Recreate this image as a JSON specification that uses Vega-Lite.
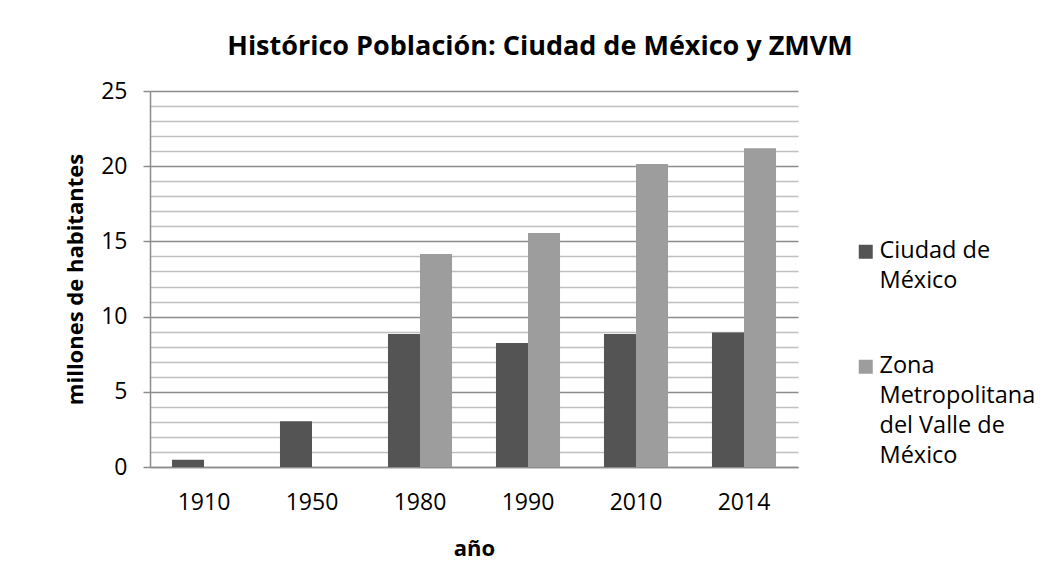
{
  "$schema": "https://vega.github.io/schema/vega-lite/v6.json",
  "width": 648,
  "height": 376,
  "autosize": {"type": "none"},
  "padding": {"left": 150, "top": 91, "right": 259, "bottom": 108},
  "background": "white",
  "title": {
    "text": "Histórico Población: Ciudad de México y ZMVM",
    "font": "Open Sans",
    "fontSize": 27,
    "fontWeight": "bold",
    "color": "black",
    "anchor": "middle",
    "dx": 66,
    "offset": 19
  },
  "data": {
    "values": [
      {"anio": "1910", "serie": "Ciudad de México", "valor": 0.48},
      {"anio": "1950", "serie": "Ciudad de México", "valor": 3.05},
      {"anio": "1980", "serie": "Ciudad de México", "valor": 8.85},
      {"anio": "1980", "serie": "Zona Metropolitana del Valle de México", "valor": 14.16},
      {"anio": "1990", "serie": "Ciudad de México", "valor": 8.25},
      {"anio": "1990", "serie": "Zona Metropolitana del Valle de México", "valor": 15.56},
      {"anio": "2010", "serie": "Ciudad de México", "valor": 8.85},
      {"anio": "2010", "serie": "Zona Metropolitana del Valle de México", "valor": 20.14},
      {"anio": "2014", "serie": "Ciudad de México", "valor": 8.94},
      {"anio": "2014", "serie": "Zona Metropolitana del Valle de México", "valor": 21.2}
    ]
  },
  "mark": {"type": "bar", "opacity": 1},
  "encoding": {
    "x": {
      "field": "anio",
      "type": "nominal",
      "scale": {"paddingInner": 0.407, "paddingOuter": 0.2035},
      "axis": {
        "title": "año",
        "labelAngle": 0,
        "ticks": false,
        "domainColor": "#8c8c8c",
        "domainWidth": 1.5,
        "labelPadding": 18,
        "labelFontSize": 23,
        "labelColor": "black",
        "labelFont": "Open Sans",
        "titleFont": "Open Sans",
        "titleFontSize": 22,
        "titleFontWeight": "bold",
        "titleColor": "black",
        "titlePadding": 24
      }
    },
    "xOffset": {
      "field": "serie",
      "type": "nominal",
      "scale": {"paddingInner": 0, "paddingOuter": 0}
    },
    "y": {
      "field": "valor",
      "type": "quantitative",
      "scale": {"domain": [0, 25], "nice": false},
      "axis": {
        "title": "millones de habitantes",
        "values": [0, 1, 2, 3, 4, 5, 6, 7, 8, 9, 10, 11, 12, 13, 14, 15, 16, 17, 18, 19, 20, 21, 22, 23, 24, 25],
        "grid": true,
        "gridColor": {"condition": {"test": "datum.value % 5 === 0", "value": "#8c8c8c"}, "value": "#c0c0c0"},
        "gridWidth": 1.5,
        "tickColor": "#8c8c8c",
        "tickWidth": 1.5,
        "tickSize": 7,
        "tickOpacity": {"condition": {"test": "datum.value % 5 === 0", "value": 1}, "value": 0},
        "labelExpr": "datum.value % 5 === 0 ? datum.label : ''",
        "labelOverlap": false,
        "labelFlush": false,
        "labelFontSize": 23,
        "labelFont": "Open Sans",
        "labelColor": "black",
        "labelPadding": 16,
        "labelOffset": -6,
        "domainColor": "#8c8c8c",
        "domainWidth": 1.5,
        "titleFont": "Open Sans",
        "titleFontSize": 22,
        "titleFontWeight": "bold",
        "titleColor": "black",
        "titlePadding": 13
      }
    },
    "color": {
      "field": "serie",
      "type": "nominal",
      "scale": {
        "domain": ["Ciudad de México", "Zona Metropolitana del Valle de México"],
        "range": ["#545454", "#9d9d9d"]
      },
      "legend": {
        "title": null,
        "orient": "none",
        "legendX": 704,
        "legendY": 149,
        "padding": 0,
        "symbolType": "square",
        "symbolSize": 196,
        "symbolStrokeWidth": 0,
        "labelFont": "Open Sans",
        "labelFontSize": 23.5,
        "labelColor": "black",
        "labelOffset": 2,
        "labelBaseline": "alphabetic",
        "labelLimit": 300,
        "rowPadding": 60,
        "labelExpr": "datum.value === 'Ciudad de México' ? ['Ciudad de', 'México'] : ['Zona', 'Metropolitana', 'del Valle de', 'México']"
      }
    }
  },
  "config": {
    "view": {"stroke": null},
    "font": "Open Sans",
    "style": {"guide-label": {"lineHeight": 30, "dy": 6}}
  }
}
